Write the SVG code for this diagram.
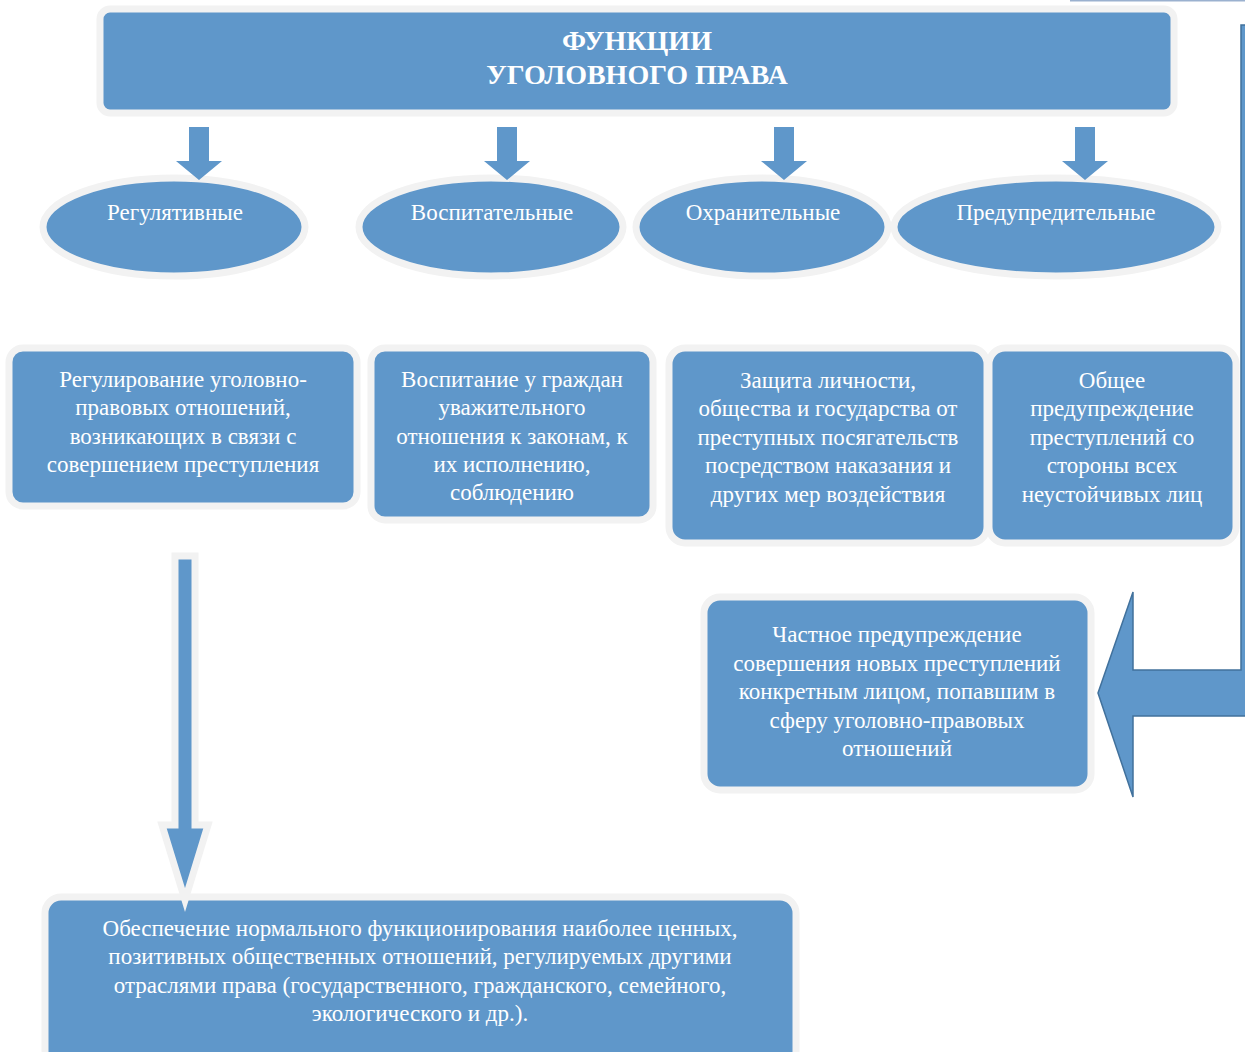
<svg xmlns="http://www.w3.org/2000/svg" width="1245" height="1052" viewBox="0 0 1245 1052">
<style>
.box{fill:#5f97ca;stroke:#f2f2f2;stroke-width:7}
.t{font-family:"Liberation Serif","Times New Roman",serif;font-size:23px;fill:#ffffff;text-anchor:middle}
.title{font-family:"Liberation Serif","Times New Roman",serif;font-size:28px;font-weight:bold;fill:#ffffff;text-anchor:middle}
.arr{fill:#5f97ca}
</style>
<rect width="1245" height="1052" fill="#ffffff"/>
<line x1="1070" y1="0.5" x2="1245" y2="0.5" stroke="#9bb1cf" stroke-width="2"/>
<g id="title">
<rect class="box" x="100" y="9" width="1074" height="104" rx="10"/>
<text class="title" x="637" y="50">ФУНКЦИИ</text>
<text class="title" x="637" y="84">УГОЛОВНОГО ПРАВА</text>
</g>
<g id="e1"><ellipse class="box" cx="174" cy="227" rx="131" ry="49"/><text class="t" x="175" y="220">Регулятивные</text></g>
<g id="e2"><ellipse class="box" cx="491" cy="227" rx="132" ry="49"/><text class="t" x="492" y="220">Воспитательные</text></g>
<g id="e3"><ellipse class="box" cx="762" cy="227" rx="126" ry="49"/><text class="t" x="763" y="220">Охранительные</text></g>
<g id="e4"><ellipse class="box" cx="1056" cy="227" rx="162" ry="49"/><text class="t" x="1056" y="220">Предупредительные</text></g>
<g id="b1">
<rect class="box" x="9" y="348" width="348" height="158" rx="14"/>
<text class="t" x="183" y="387">Регулирование уголовно-</text>
<text class="t" x="183" y="415">правовых отношений,</text>
<text class="t" x="183" y="444">возникающих в связи с</text>
<text class="t" x="183" y="472">совершением преступления</text>
</g>
<g id="b2">
<rect class="box" x="371" y="348" width="282" height="172" rx="14"/>
<text class="t" x="512" y="387">Воспитание у граждан</text>
<text class="t" x="512" y="415">уважительного</text>
<text class="t" x="512" y="444">отношения к законам, к</text>
<text class="t" x="512" y="472">их исполнению,</text>
<text class="t" x="512" y="500">соблюдению</text>
</g>
<g id="b3">
<rect class="box" x="669" y="348" width="318" height="195" rx="16"/>
<text class="t" x="828" y="388">Защита личности,</text>
<text class="t" x="828" y="416">общества и государства от</text>
<text class="t" x="828" y="445">преступных посягательств</text>
<text class="t" x="828" y="473">посредством наказания и</text>
<text class="t" x="828" y="502">других мер воздействия</text>
</g>
<g id="b4">
<rect class="box" x="989" y="348" width="247" height="195" rx="16"/>
<text class="t" x="1112" y="388">Общее</text>
<text class="t" x="1112" y="416">предупреждение</text>
<text class="t" x="1112" y="445">преступлений со</text>
<text class="t" x="1112" y="473">стороны всех</text>
<text class="t" x="1112" y="502">неустойчивых лиц</text>
</g>
<g id="b5">
<rect class="box" x="704" y="597" width="387" height="193" rx="16"/>
<text class="t" x="897" y="642">Частное пре<tspan font-weight="bold">д</tspan>упреждение</text>
<text class="t" x="897" y="671">совершения новых преступлений</text>
<text class="t" x="897" y="699">конкретным лицом, попавшим в</text>
<text class="t" x="897" y="728">сферу уголовно-правовых</text>
<text class="t" x="897" y="756">отношений</text>
</g>
<g id="b6">
<rect class="box" x="45" y="897" width="751" height="170" rx="16"/>
<text class="t" x="420" y="936">Обеспечение нормального функционирования наиболее ценных,</text>
<text class="t" x="420" y="964">позитивных общественных отношений, регулируемых другими</text>
<text class="t" x="420" y="993">отраслями права (государственного, гражданского, семейного,</text>
<text class="t" x="420" y="1021">экологического и др.).</text>
</g>
<g id="connectors">
<path class="arr" d="M189,127 H209 V161 H222 L199,180 L176,161 H189 Z"/>
<path class="arr" d="M497,127 H517 V161 H530 L507,180 L484,161 H497 Z"/>
<path class="arr" d="M774,127 H794 V161 H807 L784,180 L761,161 H774 Z"/>
<path class="arr" d="M1075,127 H1095 V161 H1108 L1085,180 L1062,161 H1075 Z"/>
<path class="arr" d="M175,556 H195 V825 H208 L185,900 L162,825 H175 Z" stroke="#f2f2f2" stroke-width="7" stroke-linejoin="miter"/>
<path class="arr" d="M1241,25 H1262 V716 H1133 V797 L1098,693 L1133,592 V670 H1241 Z" stroke="#41719c" stroke-width="1.5"/>
</g>
</svg>
